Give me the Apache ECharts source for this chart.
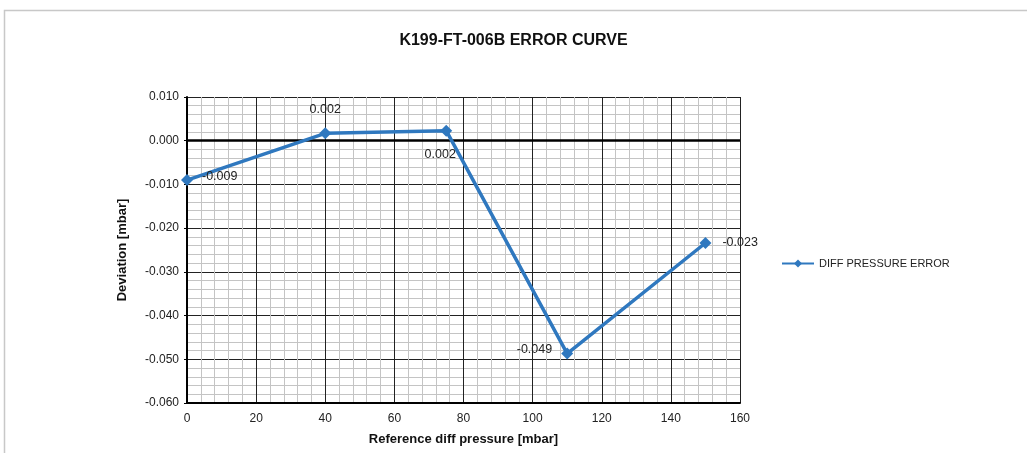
<!DOCTYPE html>
<html><head><meta charset="utf-8">
<script src="https://cdn.jsdelivr.net/npm/echarts@6/dist/echarts.min.js"></script>
<style>html,body{margin:0;padding:0;background:#fff}#c{width:1027px;height:453px}</style>
</head><body><div id="c"></div>
<script>
const refPressure = [0, 40, 75, 110, 150];
const deviation = [-0.009, 0.0017, 0.0023, -0.0487, -0.0234];
const labelPos = ['right', 'top', 'bottom', 'left', 'right'];
const seriesName = 'DIFF PRESSURE ERROR';

const chart = echarts.init(document.getElementById('c'));
const data = refPressure.map((x, i) => ({
  value: [x, deviation[i]],
  label: { position: labelPos[i] }
}));
data[0].label.offset = [4, -4];
data[1].label.offset = [0, -6];
data[2].label.offset = [-6, 6];
data[3].label.offset = [-4, -4];
data[4].label.offset = [6, 0];

chart.setOption({
  animation: false,
  backgroundColor: '#fff',
  textStyle: { fontFamily: 'Liberation Sans, Arial, sans-serif' },
  title: {
    text: 'K199-FT-006B ERROR CURVE',
    left: 'center', top: 28,
    textStyle: { fontSize: 16, fontWeight: 'bold', color: '#111', fontFamily: 'Liberation Sans, Arial, sans-serif' }
  },
  graphic: [{
    type: 'rect', silent: true, z: -10,
    shape: { x: 4.5, y: 10.5, width: 1200, height: 600 },
    style: { fill: 'none', stroke: '#c8c8c8', lineWidth: 1.5 }
  }],
  legend: {
    orient: 'vertical', left: 776, top: 253, itemGap: 0,
    itemWidth: 32, itemHeight: 10,
    data: [seriesName],
    textStyle: { fontSize: 11, color: '#222' }
  },
  grid: { left: 187, right: 287, top: 97, bottom: 50, containLabel: false },
  xAxis: {
    type: 'value', min: 0, max: 160, interval: 20,
    name: 'Reference diff pressure [mbar]', nameLocation: 'middle', nameGap: 30,
    nameTextStyle: { fontSize: 13, fontWeight: 'bold', color: '#111' },
    axisLine: { show: true, onZero: false, lineStyle: { color: '#000', width: 2 } },
    axisTick: { show: false },
    axisLabel: { fontSize: 12, color: '#222', margin: 10 },
    splitLine: { show: true, lineStyle: { color: '#222', width: 1 } },
    minorTick: { show: true, splitNumber: 5, length: 0 },
    minorSplitLine: { show: true, lineStyle: { color: '#c4c4c4', width: 1 } }
  },
  yAxis: {
    type: 'value', min: -0.06, max: 0.01, interval: 0.01,
    name: 'Deviation [mbar]', nameLocation: 'middle', nameGap: 58,
    nameTextStyle: { fontSize: 13, fontWeight: 'bold', color: '#111' },
    axisLine: { show: true, lineStyle: { color: '#000', width: 2 } },
    axisTick: { show: true, inside: false, length: 3, lineStyle: { color: '#000' } },
    axisLabel: { fontSize: 12, color: '#222', margin: 8, formatter: v => v.toFixed(3) },
    splitLine: { show: true, lineStyle: { color: '#222', width: 1 } },
    minorTick: { show: true, splitNumber: 5, length: 0 },
    minorSplitLine: { show: true, lineStyle: { color: '#c4c4c4', width: 1 } }
  },
  series: [{
    name: seriesName, type: 'line', data: data,
    symbol: 'diamond', symbolSize: 12,
    lineStyle: { color: '#2f78bf', width: 3.5 },
    itemStyle: { color: '#2f78bf' },
    label: { show: true, fontSize: 12.5, color: '#222', formatter: p => p.value[1].toFixed(3) },
    markLine: {
      silent: true, symbol: 'none', label: { show: false },
      lineStyle: { color: '#000', width: 2.5, type: 'solid' },
      data: [{ yAxis: 0 }]
    },
    z: 5
  }]
});
</script></body></html>
